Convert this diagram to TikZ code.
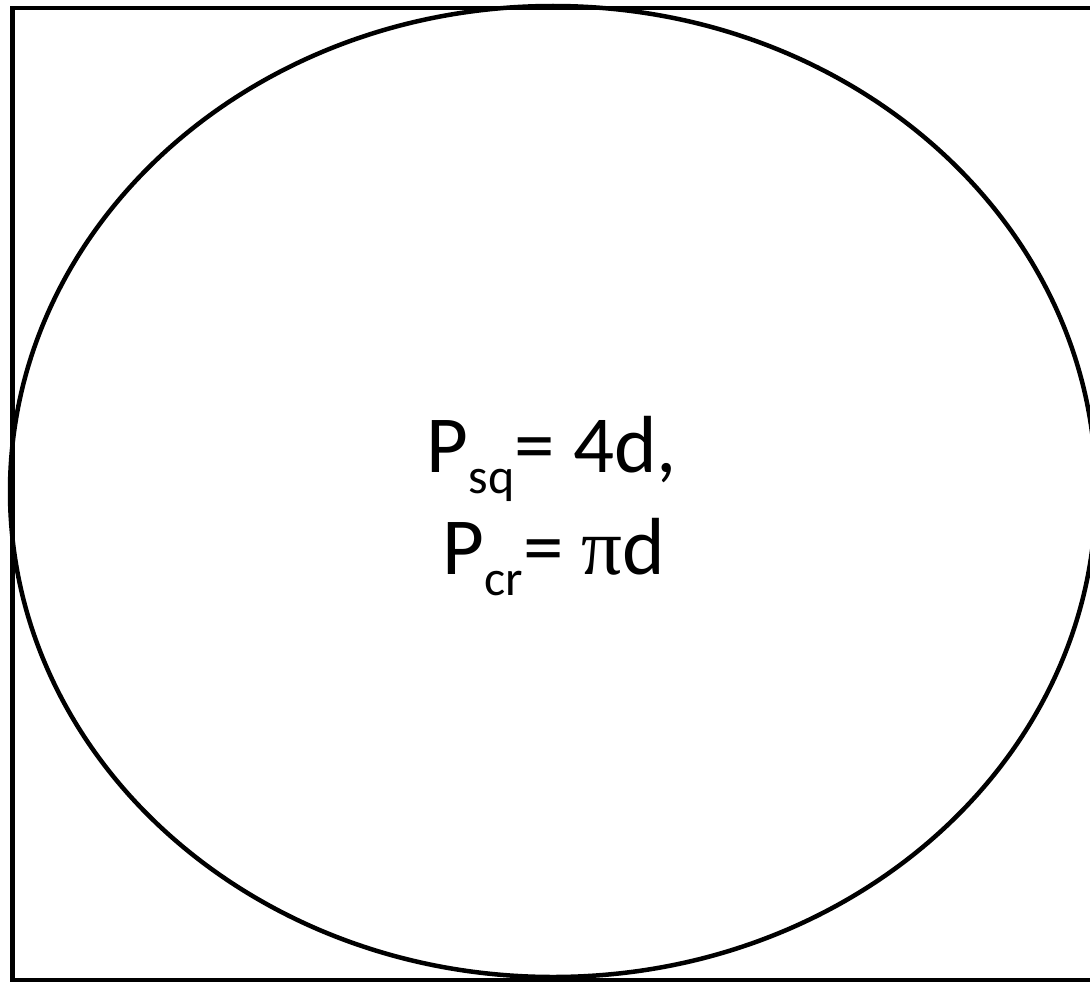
\documentclass[tikz,border=0pt]{standalone}
\usepackage{fontspec}
\setmainfont{Carlito}
\newfontfamily\pifont{Liberation Serif}
\usetikzlibrary{shapes.geometric}
\newcommand{\lowsub}[1]{\raisebox{-21pt}{\fontsize{50}{50}\selectfont #1}}
\tikzset{
  outline/.style={draw=black, line width=4.5pt},
  formula/.style={font=\fontsize{81}{102}\selectfont, inner sep=0pt, anchor=base}
}
\begin{document}
\begin{tikzpicture}[x=1pt,y=1pt]
\useasboundingbox (0,0) rectangle (1090,-982);
\node[outline, rectangle, minimum width=1094pt, minimum height=972pt, anchor=north west, inner sep=0pt] (square) at (10,-6) {};
\node[outline, ellipse, minimum width=1086pt, minimum height=971pt, inner sep=0pt] (circle) at (553,-491.5) {};
\node[formula] (psq) at (552,-472) {P\lowsub{sq}= 4d,};
\node[formula] (pcr) at (554,-574) {P\lowsub{cr}= {\pifont π}d};
\end{tikzpicture}
\end{document}
